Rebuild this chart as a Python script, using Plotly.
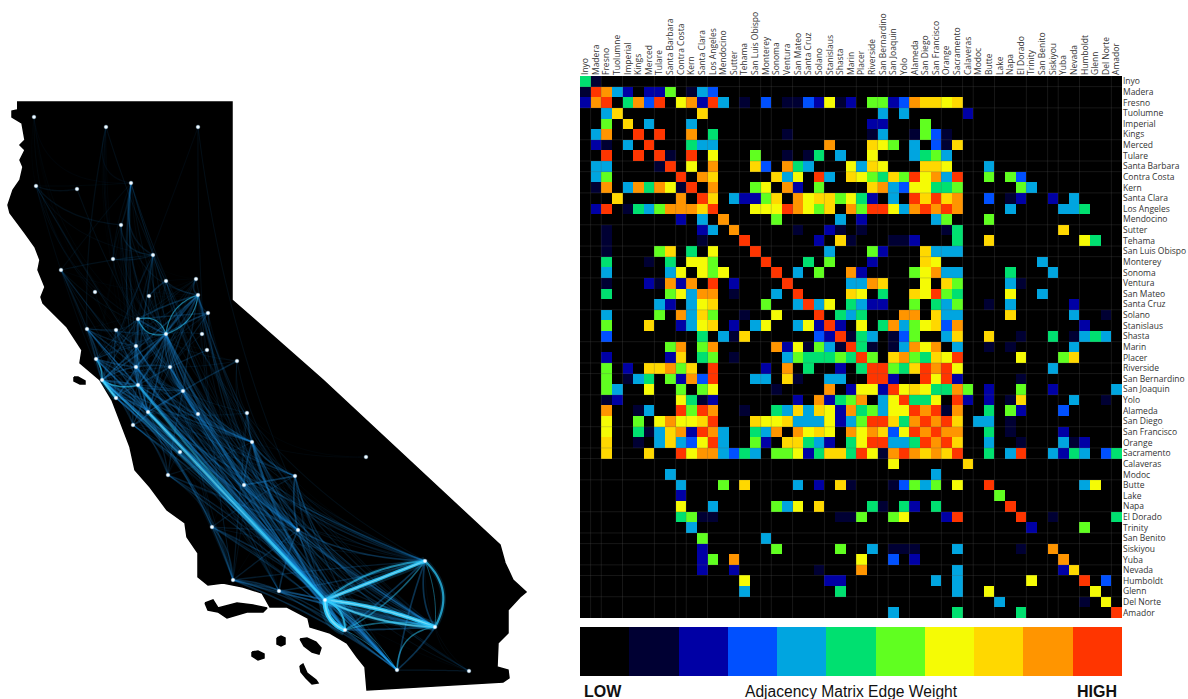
import plotly.graph_objects as go

counties = ["Inyo","Madera","Fresno","Tuolumne","Imperial","Kings","Merced","Tulare","Santa Barbara","Contra Costa","Kern","Santa Clara","Los Angeles","Mendocino","Sutter","Tehama","San Luis Obispo","Monterey","Sonoma","Ventura","San Mateo","Santa Cruz","Solano","Stanislaus","Shasta","Marin","Placer","Riverside","San Bernardino","San Joaquin","Yolo","Alameda","San Diego","San Francisco","Orange","Sacramento","Calaveras","Modoc","Butte","Lake","Napa","El Dorado","Trinity","San Benito","Siskiyou","Yuba","Nevada","Humboldt","Glenn","Del Norte","Amador"]

# sparse rows of the adjacency matrix: {column index: weight level 1..10}
weight_rows = [
{0:5,1:1},
{0:1,1:10,2:9,3:4,4:2,6:2,7:2,8:6,10:1,11:4,12:3},
{0:2,1:9,2:10,4:5,5:9,6:3,7:10,9:7,10:9,11:2,12:10,13:4,15:1,17:3,19:1,20:1,21:3,22:2,23:7,24:1,25:2,27:6,28:6,29:2,30:3,31:9,32:8,33:8,34:7,35:8},
{2:4,3:8,11:8,28:4,30:4,36:2},
{2:6,4:8,6:4,10:4,27:2,28:2,32:6},
{1:4,2:9,5:10,7:10,10:9,12:5,19:1,27:1,28:4,31:1,32:6,33:3,34:1},
{1:2,2:1,4:4,6:10,10:5,11:4,12:4,23:9,27:8,28:7,29:6,31:4,33:3,34:1,35:8},
{2:10,5:10,7:10,8:1,10:10,12:7,16:6,19:1,21:1,22:5,24:4,27:7,31:4,32:5,33:6,34:4},
{1:4,2:4,7:1,8:10,10:7,12:9,16:8,17:3,19:9,20:5,21:4,25:7,26:4,27:8,28:7,32:8,33:8,34:7,38:4},
{1:4,2:6,9:10,11:9,12:8,18:8,19:4,20:7,22:10,23:4,25:8,26:7,27:6,28:5,29:8,30:6,31:10,32:7,33:9,34:4,35:10,38:6,40:6,41:3},
{1:1,2:9,4:4,5:9,6:5,7:9,8:7,9:1,10:10,12:9,16:6,17:7,19:9,20:2,22:6,27:8,28:9,29:4,30:3,31:7,32:7,33:5,34:5,35:6,41:6,42:4},
{3:8,9:9,11:10,12:8,14:4,15:2,16:2,17:6,18:8,20:9,21:7,22:8,23:8,24:6,25:7,26:5,27:2,29:4,31:10,32:8,33:10,34:8,35:9,38:3,40:1,41:2,44:2,46:4},
{1:2,2:10,4:1,5:5,6:4,7:6,8:9,9:9,10:9,11:8,12:10,16:7,17:7,18:7,19:10,20:9,21:7,22:6,23:8,25:9,26:6,27:10,28:10,29:7,30:4,31:9,32:10,33:9,34:10,35:9,40:4,45:4,46:4,47:5},
{9:2,11:4,13:9,18:6,24:4,26:2,33:4,34:6,38:6},
{2:1,11:2,12:4,14:9,20:1,23:2,24:1,26:1,34:1,35:5,45:8},
{2:1,11:1,15:10,22:2,24:8,25:1,29:1,30:1,31:2,35:5,38:8,47:7,48:5},
{2:1,7:6,8:8,10:5,12:7,16:10,23:4,27:6,28:2,32:8,33:4,34:4,35:4},
{2:5,6:1,8:5,10:7,11:7,12:6,17:10,21:5,23:6,27:2,32:8,33:7,43:4},
{2:4,8:4,9:7,11:7,12:6,13:7,18:10,20:4,22:6,25:9,26:2,31:6,32:7,33:9,34:4,35:4,40:5,44:4},
{2:1,6:2,7:1,8:9,9:2,10:9,12:10,14:2,19:10,25:4,26:4,27:9,28:8,32:7,34:8,35:6,40:4,41:1},
{2:5,8:6,9:7,10:4,11:9,12:9,14:1,18:4,20:10,25:8,26:7,28:5,31:8,32:7,33:10,34:6,35:5,40:7,43:4},
{7:4,8:2,10:4,11:7,12:8,17:6,20:4,21:10,22:4,23:7,25:5,26:4,27:2,28:2,31:6,33:5,34:4,35:6,38:1,40:4,46:2},
{2:4,7:6,9:9,10:4,11:8,12:6,15:1,18:7,22:10,24:5,25:4,26:5,30:9,31:9,33:8,34:4,35:4,40:8,46:4,49:1},
{2:6,6:8,9:2,10:4,11:7,12:8,14:2,16:4,17:7,20:4,21:7,22:2,23:10,24:2,26:7,28:5,29:9,30:4,31:6,32:7,33:8,34:3,35:9,47:2},
{2:3,11:5,13:4,14:1,15:8,22:3,23:2,24:10,25:1,26:5,27:4,29:1,30:3,31:6,34:4,35:8,38:8,41:1,44:5,46:1,47:4,48:5,49:4},
{8:6,9:9,11:6,12:9,18:9,19:2,20:7,21:1,22:6,23:4,24:1,25:10,26:5,27:1,29:1,30:4,31:9,32:7,33:9,35:4,38:1,40:1,46:4},
{2:2,8:2,9:8,11:5,12:6,14:1,19:4,20:6,21:5,22:5,23:5,24:6,25:5,26:10,27:6,29:8,30:9,31:6,32:5,33:8,34:7,35:10,41:7,45:6,46:8},
{2:6,4:2,6:8,7:8,8:9,9:6,10:8,12:10,17:2,19:9,21:5,24:2,26:5,27:10,28:10,29:6,30:5,31:8,32:10,33:9,34:10,35:7,44:4},
{2:6,4:1,5:4,6:5,8:6,9:2,10:9,11:3,12:10,16:4,17:4,19:8,20:1,23:4,24:4,27:10,28:10,29:2,32:10,33:7,34:10,35:2,41:1},
{2:6,3:4,6:7,9:6,11:6,12:7,18:1,23:9,25:2,26:7,27:7,28:2,29:10,30:7,31:8,32:7,33:5,34:5,35:9,36:6,38:2,41:6,44:2,50:4},
{2:1,3:2,9:7,10:5,11:1,12:2,20:2,22:9,23:2,24:5,25:6,26:9,28:4,29:7,30:10,31:5,32:5,33:7,35:10,36:2,38:2,40:1,41:8,46:4,49:1},
{2:9,5:1,6:4,9:10,10:6,11:10,12:9,15:1,18:5,19:4,20:8,21:4,22:8,23:7,24:2,25:9,26:5,27:6,28:4,29:7,30:7,31:10,32:9,33:10,34:1,35:9,38:5,40:6,41:2,45:3},
{2:7,5:6,7:7,8:9,9:7,10:7,11:8,12:10,16:8,17:7,18:7,19:8,20:4,21:4,22:4,23:7,24:2,25:4,26:6,27:10,28:10,29:8,30:5,31:9,32:10,33:9,34:10,35:8,37:4,38:4,40:1},
{2:7,5:5,6:1,7:4,8:8,9:9,10:2,11:10,12:9,13:4,16:5,17:4,18:9,20:9,21:7,22:8,23:7,25:9,26:7,27:9,28:8,29:3,30:7,31:10,32:9,33:10,34:9,35:9,38:5,40:1,45:2},
{2:8,5:1,7:4,8:8,9:4,10:3,11:7,12:10,13:4,16:6,17:2,19:8,20:8,21:5,22:4,23:2,25:5,26:7,27:10,28:10,29:4,30:4,31:5,32:10,33:9,34:10,35:8,38:4,41:1,45:4,46:1,47:2},
{2:8,6:8,9:10,10:7,11:9,12:9,13:4,14:3,15:5,16:4,18:6,19:6,20:7,21:2,22:5,23:8,24:8,25:5,26:10,27:7,28:1,29:9,30:10,31:9,32:8,33:9,34:8,35:10,38:5,40:4,41:10,44:4,45:2,46:5,47:4,49:3,50:5},
{29:7,36:8},
{8:4,33:4},
{9:4,13:6,15:8,20:4,22:2,24:8,25:1,29:1,30:3,31:6,32:4,33:6,35:7,38:10,47:4,48:7},
{9:2,39:6},
{9:7,12:4,18:6,19:4,20:7,22:8,27:5,28:1,30:5,31:2,33:5,40:10},
{9:5,10:6,11:1,12:1,24:1,25:1,26:6,29:6,30:7,34:2,35:10,41:10,44:1,50:5},
{10:4,42:2,47:6},
{11:6,17:4},
{11:2,18:6,24:6,27:4,29:1,30:1,31:1,35:4,41:1,44:9},
{11:2,12:6,14:9,26:7,29:3,31:2,45:9},
{11:2,14:2,22:1,26:9,35:4,45:2,46:8},
{15:7,23:2,24:2,33:4,35:4,42:7,47:10,49:3},
{15:4,24:5,35:4,38:7,48:7},
{39:4,47:1,49:7},
{29:4,35:5,41:5,50:10},
]

level_colors = ["#000000","#000033","#0000A5","#0050FF","#00A5E0","#00E070","#60FF20","#F5FB05","#FFD800","#FF9500","#FF3500"]
levels = list(range(11))

# map outline, in map units
state_x = [17,232,232,323,500,502,505,513,526,520,508,508,498,497,508,509,503,367,365,357,347,330,310,308,287,270,262,243,223,208,198,198,187,185,167,150,135,130,112,100,80,82,67,43,41,45,38,40,35,25,10,8,13,20,23,20,25,20,25,22,12,12,17]
state_y = [102,102,300,380,545,553,563,580,592,597,610,633,643,667,670,678,682,690,667,657,643,633,627,618,607,607,593,587,583,585,577,553,537,523,510,487,470,447,400,380,363,350,327,303,297,287,270,260,247,233,213,205,190,180,167,160,150,145,140,123,117,111,110]
islands_x = [[205,213,218,237,253,267,263,247,227,218,208],[300,303,307,316,318,312,306,301],[252,258,264,264,258,252],[277,281,285,285,281,277],[300,307,316,321,319,312,304],[74,78,85,85,80,74]]
islands_y = [[603,600,608,603,605,608,612,612,618,612,610],[666,664,673,680,683,684,678,672],[652,651,654,658,660,656],[638,636,638,644,646,644],[639,638,642,648,654,652,646],[377,377,381,384,384,381]]

# county seats on the map, in map units
seat = {"Del Norte":(34,117),"Siskiyou":(106,127),"Modoc":(198,127),"Humboldt":(36,186),"Trinity":(77,189),"Shasta":(131,183),"Tehama":(121,225),"Glenn":(113,259),"Butte":(153,255),"Mendocino":(61,270),"Yuba":(166,281),"Nevada":(196,279),"Lake":(95,292),"Sutter":(149,296),"Placer":(198,295),"El Dorado":(208,313),"Yolo":(138,319),"Sonoma":(87,329),"Napa":(116,330),"Sacramento":(166,334),"Amador":(202,334),"Solano":(136,346),"Calaveras":(207,350),"Tuolumne":(237,361),"Marin":(96,359),"Contra Costa":(136,367),"San Joaquin":(170,367),"Alameda":(138,385),"San Francisco":(102,380),"San Mateo":(116,398),"Stanislaus":(183,391),"Santa Clara":(148,412),"Merced":(198,414),"Madera":(247,413),"Santa Cruz":(133,425),"San Benito":(180,452),"Fresno":(252,442),"Inyo":(366,457),"Tulare":(295,476),"Kings":(244,485),"Monterey":(168,475),"San Luis Obispo":(212,527),"Kern":(298,530),"Santa Barbara":(233,580),"Ventura":(279,591),"San Bernardino":(425,561),"Los Angeles":(325,600),"Orange":(345,630),"Riverside":(435,627),"San Diego":(397,670),"Imperial":(469,671)}

# bright, bundled links: from, to, bow, width, opacity
strong_links = [
("Santa Clara","Los Angeles",0,3.0,.65),("Alameda","Los Angeles",3,2.0,.45),("San Francisco","Los Angeles",-2,1.2,.45),
("Los Angeles","San Bernardino",0,3.5,.85),("Los Angeles","San Bernardino",-8,2,.6),("Los Angeles","Riverside",-4,4,.9),("Los Angeles","Riverside",6,2.5,.7),
("San Bernardino","Riverside",-13,2.2,.7),("San Bernardino","Riverside",-4,1,.4),("Los Angeles","Orange",6,5,.95),("Los Angeles","Orange",-6,2,.75),
("Orange","San Bernardino",6,1.6,.45),("Orange","Riverside",-6,1.6,.45),("San Diego","Riverside",-12,1.5,.5),("San Diego","Los Angeles",6,1,.4),("San Diego","Orange",3,1,.4),
("Yolo","Sacramento",-7,1.2,.55),("Yolo","Sacramento",7,1.2,.55),("Sacramento","Placer",-8,1.2,.55),("Sacramento","Placer",8,1.2,.55),
("San Francisco","Alameda",4,1.5,.6),("San Francisco","San Mateo",0,2.5,.85),("San Francisco","Marin",2,1.5,.6),
]

spine = (seat["Alameda"], seat["Los Angeles"])

def bow(a, b, bend, pull=0.0):
    (x0, y0), (x1, y1) = seat[a], seat[b]
    dx, dy = x1 - x0, y1 - y0
    n = max((dx * dx + dy * dy) ** .5, 1)
    cx, cy = (x0 + x1) / 2 - dy / n * bend * 2, (y0 + y1) / 2 + dx / n * bend * 2
    if pull:
        (sx0, sy0), (sx1, sy1) = spine
        ux, uy = sx1 - sx0, sy1 - sy0
        un = (ux * ux + uy * uy) ** .5
        ux, uy = ux / un, uy / un
        par = abs(dx * ux + dy * uy) / n
        s = (cx - sx0) * ux + (cy - sy0) * uy
        px, py = sx0 + s * ux, sy0 + s * uy
        k = pull * par ** 4 * min(n / 200, 1)
        cx, cy = cx + (px - cx) * k, cy + (py - cy) * k
    ts = [k / 16 for k in range(17)]
    return ([(1-t)**2*x0 + 2*t*(1-t)*cx + t*t*x1 for t in ts], [(1-t)**2*y0 + 2*t*(1-t)*cy + t*t*y1 for t in ts])

n = len(counties)
matrix = [[weight_rows[r].get(c, 0) for c in range(n)] for r in range(n)]

fig = go.Figure()

# map
fx, fy = list(state_x) + [None], list(state_y) + [None]
for ix, iy in zip(islands_x, islands_y):
    fx += ix + [ix[0], None]
    fy += iy + [iy[0], None]
fig.add_trace(go.Scatter(x=fx, y=fy, mode="lines", fill="toself", fillcolor="#000", line=dict(color="#000", width=1.5), hoverinfo="skip", xaxis="x", yaxis="y"))

for i in range(n):
    for j in range(i + 1, n):
        w = max(matrix[i][j], matrix[j][i])
        if not w:
            continue
        a, b = counties[i], counties[j]
        xs, ys = bow(a, b, (j - i) % 5 - 2, pull=.9)
        ymean = (seat[a][1] + seat[b][1]) / 2
        alpha = (.05 + .3 * (w / 10) ** 2) * min(1, .4 + max(ymean - 150, 0) / 350)
        fig.add_trace(go.Scatter(x=xs, y=ys, mode="lines", line=dict(color=f"rgba(30,140,220,{alpha:.3f})", width=.6 + w * .11, shape="spline"), hoverinfo="skip", xaxis="x", yaxis="y"))

for a, b, bend, width, op in strong_links:
    xs, ys = bow(a, b, bend)
    if width >= 2:
        fig.add_trace(go.Scatter(x=xs, y=ys, mode="lines", line=dict(color=f"rgba(30,170,240,{op*.22:.2f})", width=width * 2.4, shape="spline"), hoverinfo="skip", xaxis="x", yaxis="y"))
    fig.add_trace(go.Scatter(x=xs, y=ys, mode="lines", line=dict(color=f"rgba(45,205,255,{op})", width=width, shape="spline"), hoverinfo="skip", xaxis="x", yaxis="y"))
    if width >= 2.5:
        fig.add_trace(go.Scatter(x=xs, y=ys, mode="lines", line=dict(color=f"rgba(190,245,255,{op*.55:.2f})", width=width * .35, shape="spline"), hoverinfo="skip", xaxis="x", yaxis="y"))

fig.add_trace(go.Scatter(x=[seat[c][0] for c in counties], y=[seat[c][1] for c in counties], mode="markers", marker=dict(color="#f4fbff", size=3.6, line=dict(color="rgba(180,225,255,.45)", width=1)), hoverinfo="skip", xaxis="x", yaxis="y"))

# matrix
step_scale = [v for k in levels for v in ([max(0, (k - .5) / 10), level_colors[k]], [min(1, (k + .5) / 10), level_colors[k]])]
fig.add_trace(go.Heatmap(z=matrix, x=counties, y=counties, zmin=0, zmax=10, showscale=False, hoverinfo="skip", colorscale=step_scale, xaxis="x2", yaxis="y2"))

# faint grid showing through the matrix
col_breaks = [1,2,4,7,9,10,12,15,17,18,20,23,26,28,29,31,34,36,37,39,42,44,45,47,50]
row_breaks = [1,3,6,8,9,11,14,16,17,19,22,25,27,28,30,33,35,36,38,41,43,44,46,47,49]
gx, gy = [], []
for c in col_breaks:
    gx += [c - .5, c - .5, None]; gy += [-.5, n - .5, None]
for r in row_breaks:
    gx += [-.5, n - .5, None]; gy += [r - .5, r - .5, None]
fig.add_trace(go.Scatter(x=gx, y=gy, mode="lines", line=dict(color="rgba(90,90,90,.25)", width=1), hoverinfo="skip", xaxis="x4", yaxis="y4"))

# colour key
fig.add_trace(go.Heatmap(z=[levels], x=levels, zmin=0, zmax=10, showscale=False, hoverinfo="skip", colorscale=step_scale, xaxis="x3", yaxis="y3"))

W, H = 1188, 699
mx = [580 / W, 1122 / W]
my = [(H - 618) / H, (H - 76) / H]
tick_font = dict(family="Open Sans, Noto Sans, sans-serif", size=8.5, color="#333")
hidden = dict(visible=False, fixedrange=True)
label_font = dict(family="Liberation Sans", size=15.6, color="#111")
bold_font = dict(family="Liberation Sans", size=16, color="#111")
fig.update_layout(
    width=W, height=H, margin=dict(l=0, r=0, t=0, b=0), autosize=False, showlegend=False,
    paper_bgcolor="white", plot_bgcolor="rgba(0,0,0,0)",
    xaxis=dict(domain=[0, 560 / W], range=[0, 560], **hidden),
    yaxis=dict(domain=[0, 1], range=[699, 0], **hidden),
    xaxis2=dict(domain=mx, range=[-.5, n - .5], side="top", anchor="y2", type="category", tickmode="array", tickvals=counties, ticktext=counties, tickangle=-90, tickfont=tick_font, showgrid=False, ticks="", ticklen=0, zeroline=False, showline=False),
    yaxis2=dict(domain=my, range=[n - .5, -.5], side="right", anchor="x2", type="category", tickmode="array", tickvals=counties, ticktext=counties, tickfont=tick_font, showgrid=False, ticks="", zeroline=False, showline=False),
    xaxis3=dict(domain=mx, range=[-.5, 10.5], anchor="y3", **hidden),
    yaxis3=dict(domain=[(H - 676) / H, (H - 627) / H], range=[-.5, .5], anchor="x3", **hidden),
    xaxis4=dict(domain=mx, range=[-.5, n - .5], anchor="y4", **hidden),
    yaxis4=dict(domain=my, range=[n - .5, -.5], anchor="x4", **hidden),
    annotations=[
        dict(text="<b>LOW</b>", xref="paper", yref="paper", x=603 / W, y=(H - 691) / H, xanchor="center", yanchor="middle", showarrow=False, font=bold_font),
        dict(text="Adjacency Matrix Edge Weight", xref="paper", yref="paper", x=851 / W, y=(H - 691) / H, xanchor="center", yanchor="middle", showarrow=False, font=label_font),
        dict(text="<b>HIGH</b>", xref="paper", yref="paper", x=1097 / W, y=(H - 691) / H, xanchor="center", yanchor="middle", showarrow=False, font=bold_font),
    ],
)
fig.write_html("out.html", config=dict(displayModeBar=False), post_script="document.body.style.margin='0';document.documentElement.style.overflow='hidden';")
